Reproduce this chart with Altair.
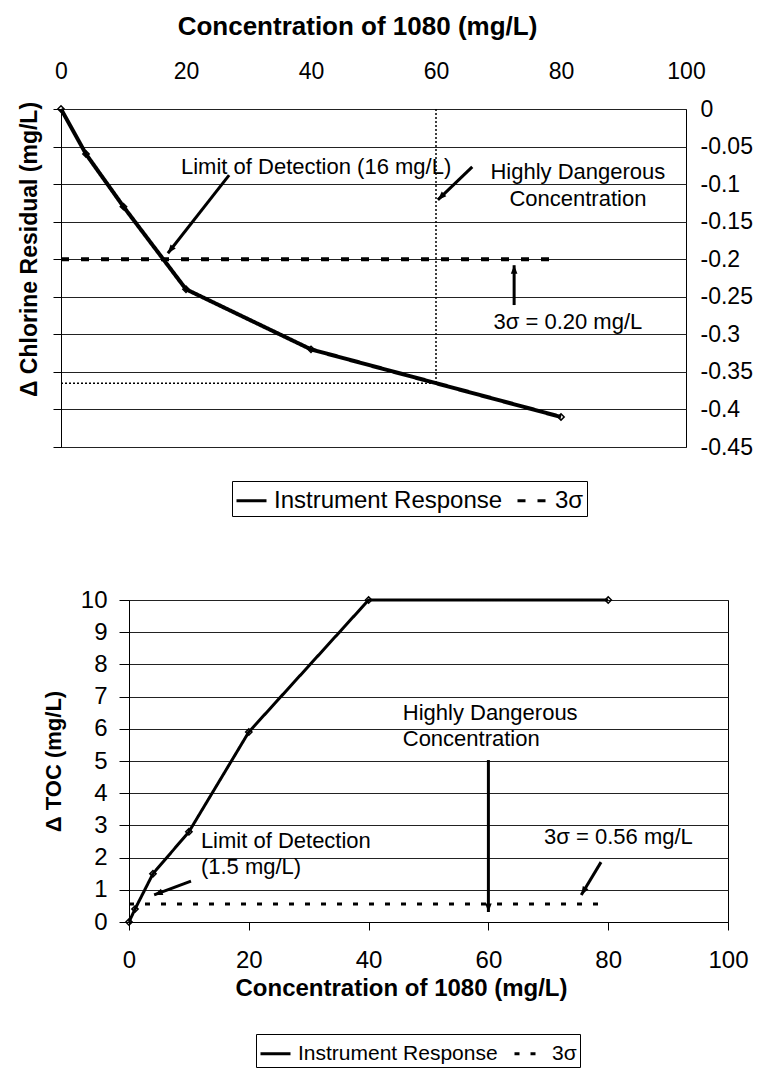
import math
import altair as alt
import pandas as pd

FONT = "Liberation Sans"

# ---------------- data ----------------
x_ticks = [0, 20, 40, 60, 80, 100]

# top chart: chlorine residual
conc_top = [0, 4, 10, 20, 40, 80]
chlorine = [0, -0.06, -0.13, -0.24, -0.32, -0.41]
sigma_top_x = [0, 80]
sigma_top_y = [-0.20, -0.20]
y_ticks_top = [0, -0.05, -0.1, -0.15, -0.2, -0.25, -0.3, -0.35, -0.4, -0.45]
danger_conc = 60
danger_level_top = -0.365

# bottom chart: TOC
conc_bot = [0, 1, 4, 10, 20, 40, 80]
toc = [0, 0.4, 1.5, 2.8, 5.9, 10, 10]
sigma_bot_x = [0, 80]
sigma_bot_y = [0.56, 0.56]
y_ticks_bot = [0, 1, 2, 3, 4, 5, 6, 7, 8, 9, 10]

SERIES = ["Instrument Response", "3σ"]

# annotations (data units; multi-line text is anchored at its first line)
top_texts = [
    {"x": 19.2, "y": -0.077, "t": "Limit of Detection (16 mg/L)", "a": "left"},
    {"x": 82.7, "y": -0.084, "t": "Highly Dangerous\nConcentration", "a": "center"},
    {"x": 81.1, "y": -0.284, "t": "3σ = 0.20 mg/L", "a": "center"},
]
top_arrows = [
    {"x": 26.9, "y": -0.088, "x2": 17.1, "y2": -0.192},
    {"x": 65.8, "y": -0.077, "x2": 60.3, "y2": -0.121},
    {"x": 72.5, "y": -0.261, "x2": 72.5, "y2": -0.208},
]
bot_texts = [
    {"x": 12.0, "y": 2.52, "t": "Limit of Detection\n(1.5 mg/L)"},
    {"x": 45.7, "y": 6.49, "t": "Highly Dangerous\nConcentration"},
    {"x": 69.3, "y": 2.64, "t": "3σ = 0.56 mg/L"},
]
bot_arrows = [
    {"x": 10.35, "y": 1.27, "x2": 4.2, "y2": 0.84},
    {"x": 60.0, "y": 5.03, "x2": 60.0, "y2": 0.31},
    {"x": 78.8, "y": 1.86, "x2": 75.5, "y2": 0.84},
]

# ---------------- layout ----------------
W1, H1 = 625, 338
W2, H2 = 599, 322
ARROW = "M0,0L-0.7,1.8L0.7,1.8Z"


def heads(arrows, sx, sy):
    rows = []
    for a in arrows:
        dx = (a["x2"] - a["x"]) * sx
        dy = -(a["y2"] - a["y"]) * sy
        ang = math.degrees(math.atan2(dx, -dy)) % 360
        rows.append({"x": a["x2"], "y": a["y2"], "ang": ang})
    return pd.DataFrame(rows)


# ---------------- top chart ----------------
xs_top = alt.Scale(domain=[0, 100], nice=False)
ys_top = alt.Scale(domain=[-0.45, 0], nice=False, zero=False)

x_top = alt.X("x:Q", scale=xs_top, axis=alt.Axis(
    orient="top", values=x_ticks, title="Concentration of 1080 (mg/L)",
    labelFontSize=23, titleFontSize=26, titleFontWeight="bold",
    ticks=False, domain=False, grid=False, labelPadding=26, titlePadding=21,
    titleX=296, labelFlush=False, labelOverlap=False))
y_left = alt.Y("y:Q", scale=ys_top, axis=alt.Axis(
    orient="left", values=y_ticks_top, labels=False, ticks=True, tickSize=8,
    tickColor="black", domain=True, domainColor="black", grid=True,
    gridColor="#222222", gridWidth=1, title="Δ Chlorine Residual (mg/L)",
    titleFontSize=23, titleFontWeight="bold", titlePadding=11, titleY=140))
y_right = alt.Y("y:Q", scale=ys_top, axis=alt.Axis(
    orient="right", values=y_ticks_top, ticks=False, domain=False, grid=False,
    labelFontSize=23, labelPadding=14, labelOverlap=False, title=None,
    labelExpr="datum.value == 0 ? '0' : '-' + format(-datum.value, '')"))

df_top_lines = pd.concat([
    pd.DataFrame({"x": conc_top, "y": chlorine, "series": SERIES[0]}),
    pd.DataFrame({"x": sigma_top_x, "y": sigma_top_y, "series": SERIES[1]}),
])
df_top_resp = pd.DataFrame({"x": conc_top, "y": chlorine})

dash_top = alt.StrokeDash("series:N", scale=alt.Scale(
    domain=SERIES, range=[[1, 0], [8, 12]]), legend=alt.Legend(
    orient="none", legendX=171, legendY=372, direction="horizontal",
    title=None, symbolType="stroke", symbolStrokeWidth=3, symbolSize=900,
    symbolStrokeColor="black", labelFontSize=24, labelLimit=500,
    strokeColor="black", padding=3, labelOffset=6, columnPadding=8,
    fillColor="white"))

top_dotted = pd.DataFrame({
    "x": [0, danger_conc], "y": [danger_level_top, 0],
    "x2": [danger_conc, danger_conc], "y2": [danger_level_top, danger_level_top]})

t_dotted = alt.Chart(top_dotted).mark_rule(
    color="black", strokeWidth=1.5, strokeDash=[2, 2]).encode(
    x=x_top, y=y_left, x2="x2:Q", y2="y2:Q")
t_lines = alt.Chart(df_top_lines).mark_line(color="black", strokeWidth=4).encode(
    x=x_top, y=y_left, strokeDash=dash_top)
t_points = alt.Chart(df_top_resp).mark_point(
    shape="diamond", filled=False, size=40, color="black", strokeWidth=1.5,
    opacity=1).encode(x=x_top, y=y_left)
t_arrows = alt.Chart(pd.DataFrame(top_arrows)).mark_rule(
    color="black", strokeWidth=3).encode(x=x_top, y=y_left, x2="x2:Q", y2="y2:Q")
t_heads = alt.Chart(heads(top_arrows, W1 / 100, H1 / 0.45)).mark_point(
    shape=ARROW, filled=True, size=90, color="black", opacity=1).encode(
    x=x_top, y=y_left, angle=alt.Angle("ang:Q", scale=None))
t_text_l = alt.Chart(pd.DataFrame([t for t in top_texts if t["a"] == "left"])).mark_text(
    font=FONT, fontSize=22, align="left", baseline="middle", color="black",
    lineBreak="\n", lineHeight=27).encode(x=x_top, y=y_left, text="t:N")
t_text_c = alt.Chart(pd.DataFrame([t for t in top_texts if t["a"] == "center"])).mark_text(
    font=FONT, fontSize=22, align="center", baseline="middle", color="black",
    lineBreak="\n", lineHeight=27).encode(x=x_top, y=y_left, text="t:N")

inner_top = alt.layer(t_dotted, t_lines, t_points, t_arrows, t_heads, t_text_l, t_text_c)
right_axis = alt.Chart(df_top_resp).mark_point(opacity=0).encode(x=x_top, y=y_right)
top = alt.layer(inner_top, right_axis).resolve_axis(y="independent").properties(
    width=W1, height=H1)

# ---------------- bottom chart ----------------
xs_bot = alt.Scale(domain=[0, 100], nice=False)
ys_bot = alt.Scale(domain=[0, 10], nice=False)
x_bot = alt.X("x:Q", scale=xs_bot, axis=alt.Axis(
    orient="bottom", values=x_ticks, title="Concentration of 1080 (mg/L)",
    labelFontSize=24, titleFontSize=24, titleFontWeight="bold", tickSize=8,
    tickColor="black", domainColor="black", grid=False, labelPadding=18,
    titlePadding=4, titleX=272, labelFlush=False, labelOverlap=False))
y_bot = alt.Y("y:Q", scale=ys_bot, axis=alt.Axis(
    values=y_ticks_bot, title="Δ TOC (mg/L)", labelFontSize=24, titleFontSize=22,
    titleFontWeight="bold", tickSize=10, tickColor="black", domainColor="black",
    labelPadding=12, titlePadding=15, grid=True, gridColor="#222222",
    gridWidth=1, labelOverlap=False, labelFlush=False))

df_bot_lines = pd.concat([
    pd.DataFrame({"x": conc_bot, "y": toc, "series": SERIES[0]}),
    pd.DataFrame({"x": sigma_bot_x, "y": sigma_bot_y, "series": SERIES[1]}),
])
df_bot_resp = pd.DataFrame({"x": conc_bot, "y": toc})

dash_bot = alt.StrokeDash("series:N", scale=alt.Scale(
    domain=SERIES, range=[[1, 0], [5, 11]]), legend=alt.Legend(
    orient="none", legendX=127, legendY=434, direction="horizontal",
    title=None, symbolType="stroke", symbolStrokeWidth=3, symbolSize=900,
    symbolStrokeColor="black", labelFontSize=21, labelLimit=500,
    strokeColor="black", padding=3, labelOffset=6, columnPadding=10,
    fillColor="white"))

b_lines = alt.Chart(df_bot_lines).mark_line(color="black", strokeWidth=3).encode(
    x=x_bot, y=y_bot, strokeDash=dash_bot)
b_points = alt.Chart(df_bot_resp).mark_point(
    shape="diamond", filled=False, size=40, color="black", strokeWidth=1.5,
    opacity=1).encode(x=x_bot, y=y_bot)
b_arrows = alt.Chart(pd.DataFrame(bot_arrows)).mark_rule(
    color="black", strokeWidth=3).encode(x=x_bot, y=y_bot, x2="x2:Q", y2="y2:Q")
b_heads = alt.Chart(heads(bot_arrows, W2 / 100, H2 / 10)).mark_point(
    shape=ARROW, filled=True, size=90, color="black", opacity=1).encode(
    x=x_bot, y=y_bot, angle=alt.Angle("ang:Q", scale=None))
b_text = alt.Chart(pd.DataFrame(bot_texts)).mark_text(
    font=FONT, fontSize=22, align="left", baseline="middle", color="black",
    lineBreak="\n", lineHeight=26).encode(x=x_bot, y=y_bot, text="t:N")

bottom = alt.layer(b_lines, b_points, b_arrows, b_heads, b_text).properties(
    width=W2, height=H2)

spacer = alt.Chart(pd.DataFrame({"s": [0]})).mark_point(opacity=0).encode(
    x=alt.X("s:Q", axis=None), y=alt.Y("s:Q", axis=None)).properties(
    width=68, height=H2, view=alt.ViewBackground(stroke="transparent"))

bottom_row = alt.hconcat(spacer, bottom, spacing=0, bounds="flush").resolve_scale(
    x="independent", y="independent", strokeDash="independent").resolve_legend(
    strokeDash="independent")

chart = alt.vconcat(top, bottom_row, spacing=153, bounds="flush").resolve_scale(
    x="independent", y="independent", strokeDash="independent").resolve_legend(
    strokeDash="independent").properties(
    padding={"left": 9, "top": 4, "right": 5, "bottom": 5}).configure(
    font=FONT).configure_view(stroke="black", strokeWidth=1).configure_axis(
    labelColor="black", titleColor="black", labelFont=FONT, titleFont=FONT).configure_legend(
    labelFont=FONT, labelColor="black")

chart.save("out.html", embed_options={"renderer": "svg", "actions": False})
